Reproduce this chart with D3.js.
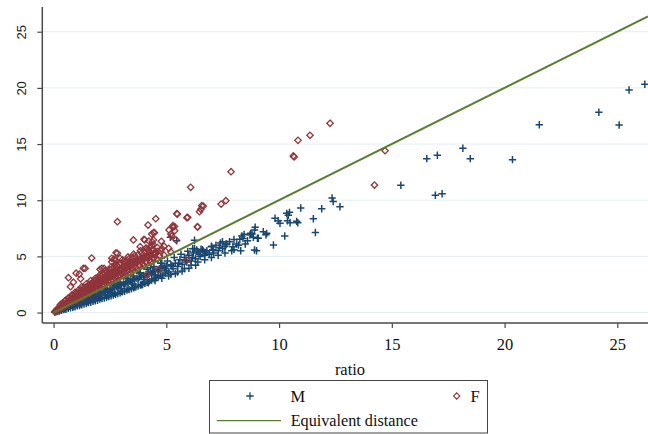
<!DOCTYPE html>
<html>
<head>
<meta charset="utf-8">
<script src="https://cdn.jsdelivr.net/npm/d3@7"></script>
<style>
  html, body { margin: 0; padding: 0; background: #ffffff; }
  svg { display: block; }
</style>
</head>
<body>
<svg id="chart" width="648" height="434"></svg>
<script>
// ---------------- DATA ----------------
const xTicks = [0, 5, 10, 15, 20, 25];
const yTicks = [0, 5, 10, 15, 20, 25];
const xLabel = "ratio";
const seriesNames = ["M", "F"];
const lineName = "Equivalent distance";

// M series: [ratio, distance]
const mPoints = [
  [0.05,0.03],[0.1,0.08],[0.15,0.09],[0.2,0.16],[0.25,0.14],[0.3,0.24],[0.3,0.28],[0.35,0.2],[0.4,0.33],[0.45,0.26],
  [0.5,0.4],[0.5,0.33],[0.55,0.3],[0.6,0.5],[0.65,0.37],[0.7,0.58],[0.75,0.42],[0.8,0.66],[0.8,0.75],[0.85,0.47],
  [0.9,0.75],[0.95,0.52],[1.0,0.82],[1.0,0.7],[1.05,0.6],[1.1,0.9],[1.15,0.63],[1.2,0.98],[1.25,0.7],[1.3,1.06],
  [1.3,1.2],[1.35,0.75],[1.4,1.15],[1.45,0.8],[1.5,1.22],[1.5,1.05],[1.55,0.88],[1.6,1.3],[1.65,0.92],[1.7,1.4],
  [1.75,1.0],[1.8,1.48],[1.8,1.68],[1.85,1.05],[1.9,1.55],[1.95,1.1],[2.0,1.62],[2.0,1.4],[2.05,1.2],[2.1,1.7],
  [2.15,1.25],[2.2,1.8],[2.25,1.3],[2.3,1.88],[2.3,2.12],[2.35,1.35],[2.4,1.95],[2.45,1.42],[2.5,2.05],[2.5,1.78],
  [2.55,1.5],[2.6,2.12],[2.65,1.55],[2.7,2.2],[2.75,1.62],[2.8,2.3],[2.8,2.58],[2.85,1.7],[2.9,2.38],[2.95,1.75],
  [3.0,2.45],[3.0,2.15],[3.05,1.85],[3.1,2.55],[3.15,1.9],[3.2,2.62],[3.25,2.0],[3.3,2.7],[3.3,3.05],[3.35,2.05],
  [3.4,2.8],[3.45,2.12],[3.5,2.9],[3.5,2.55],[3.55,2.2],[3.6,2.95],[3.65,2.3],[3.7,3.05],[3.75,2.35],[3.8,3.15],
  [3.8,3.5],[3.85,2.45],[3.9,3.2],[3.95,2.5],[4.0,3.3],[4.0,2.95],[4.05,2.6],[4.1,3.4],[4.15,2.7],[4.2,3.45],
  [4.25,2.8],[4.3,3.55],[4.3,3.98],[4.35,2.9],[4.4,3.65],[4.45,3.0],[4.5,3.7],[4.5,3.35],[4.55,3.1],[4.6,3.8],
  [4.65,3.2],[4.7,3.9],[4.75,3.3],[4.8,4.0],[4.8,4.4],[4.85,3.35],[4.9,4.05],[4.95,3.5],[5.0,4.15],[5.0,3.75],
  [5.1,3.6],[5.2,4.25],[5.3,3.9],[5.4,4.4],[5.5,4.1],[5.6,4.7],[5.7,4.3],[5.8,4.9],[5.9,4.5],[6.0,5.1],
  [6.1,4.6],[6.2,5.3],[6.3,4.8],[6.4,5.4],[6.5,5.0],[6.6,5.6],[6.7,5.1],[6.8,5.5],[6.9,5.2],[7.0,5.9],
  [7.1,5.3],[7.2,6.0],[7.3,5.5],[7.4,6.2],[7.5,5.7],[7.6,5.9],[7.8,6.3],[7.9,5.5],[8.0,6.5],[8.2,6.0],
  [8.4,6.6],[8.6,6.4],[8.8,7.0],
  [1.15,1.05],[1.45,1.35],[1.75,1.6],[2.05,1.9],[2.35,2.15],[2.65,2.45],[2.95,2.7],[3.25,3.0],[3.55,3.25],[3.85,3.55],
  [4.15,3.85],[4.45,4.1],[4.75,4.4],[5.05,4.6],[5.35,4.9],[5.65,5.2],[5.95,5.45],[6.25,5.7],
  [0.45,0.36],[0.75,0.6],[1.05,0.85],[1.35,1.08],[1.65,1.3],[1.95,1.55],[2.25,1.78],[2.55,2.0],[2.85,2.25],[3.15,2.5],
  [3.45,2.75],[3.75,2.98],[4.05,3.2],[4.35,3.45],[4.65,3.7],[4.95,3.95],[5.25,4.15],[5.55,4.4],[5.85,4.65],[6.15,4.9],
  [6.45,5.2],[6.75,5.35],[7.05,5.6],[7.35,5.8],[7.65,6.1],
  [0.9,0.58],[1.2,0.77],[1.5,0.95],[1.8,1.15],[2.1,1.33],[2.4,1.52],[2.7,1.72],[3.0,1.9],[3.3,2.1],[3.6,2.28],
  [3.9,2.48],[4.2,2.65],[4.5,2.85],[4.8,3.05],[5.1,3.25],[5.4,3.45],[5.7,3.7],[6.0,3.95],[6.3,4.2],
  [5.2,3.4],[5.5,3.6],[5.8,3.9],[6.1,4.2],[6.4,4.5],[6.7,4.7],[7.0,4.9],[7.3,5.1],[7.6,5.3],[8.0,5.6],
  [8.3,5.5],[8.5,6.1],
  [5.18,6.70],[5.46,6.39],[6.25,6.43],[6.17,5.68],[6.35,5.57],[6.54,5.63],[6.64,5.48],[7.01,5.86],[7.09,5.57],[7.49,6.30],
  [7.68,6.10],[7.95,5.86],[8.12,6.10],[8.26,6.52],[8.35,6.81],[8.45,6.96],[8.74,7.05],[8.91,7.35],[8.91,5.57],[9.08,6.61],
  [9.45,7.05],[9.75,6.01],[9.82,8.39],[9.96,8.17],[10.04,7.94],[10.25,6.81],[10.34,8.83],[10.37,8.17],[10.46,8.92],[10.41,8.66],
  [10.49,8.00],[10.83,8.00],[10.78,8.12],[10.96,9.31],[11.52,8.35],[11.61,7.12],[11.89,9.24],[12.35,10.2],[12.4,9.88],[12.7,9.42],
  [8.94,7.59],[9.30,7.20],[9.42,6.93],[8.86,6.70],[9.04,6.61],[9.00,5.50],[8.71,6.90],
  [15.40,11.33],[16.93,10.44],[17.23,10.58],[16.55,13.70],[17.02,14.00],[18.15,14.62],[18.48,13.70],[20.35,13.61],[21.54,16.72],[24.18,17.83],
  [25.08,16.70],[25.52,19.81],[26.22,20.32]
];

// F series: [ratio, distance]
const fPoints = [
  [0.05,0.08],[0.1,0.12],[0.12,0.2],[0.18,0.22],[0.2,0.35],[0.25,0.3],[0.28,0.45],[0.3,0.38],[0.3,0.7],[0.35,0.55],
  [0.38,0.45],[0.4,0.65],[0.45,0.52],[0.47,0.75],[0.5,0.6],[0.5,1.05],[0.55,0.85],[0.58,0.68],[0.6,0.95],[0.65,0.78],
  [0.65,1.3],[0.68,1.05],[0.7,0.85],[0.75,1.15],[0.78,0.92],[0.8,1.25],[0.8,1.55],[0.85,1.0],[0.88,1.35],[0.9,1.1],
  [0.95,1.45],[0.95,1.8],[1.0,1.15],[1.0,1.6],[1.05,1.3],[1.1,1.75],[1.1,2.0],[1.12,1.25],[1.15,1.5],[1.2,1.9],
  [1.22,1.35],[1.25,1.65],[1.25,2.3],[1.3,2.05],[1.32,1.45],[1.35,1.8],[1.4,2.2],[1.42,1.55],[1.45,1.95],[1.45,2.55],
  [1.5,2.35],[1.52,1.7],[1.55,2.1],[1.6,2.5],[1.62,1.8],[1.65,2.25],[1.65,2.85],[1.7,2.65],[1.72,1.9],[1.75,2.4],
  [1.8,2.8],[1.82,2.0],[1.85,2.55],[1.85,3.05],[1.9,2.95],[1.92,2.15],[1.95,2.7],[2.0,3.1],[2.02,2.25],[2.05,2.85],
  [2.05,3.35],[2.1,3.25],[2.12,2.4],[2.15,3.0],[2.2,3.4],[2.22,2.5],[2.25,3.15],[2.3,3.5],[2.3,3.75],[2.32,2.6],
  [2.35,3.3],[2.4,3.65],[2.42,2.75],[2.45,3.4],[2.5,3.8],[2.52,2.85],[2.55,3.5],[2.55,4.05],[2.6,3.9],[2.62,2.95],
  [2.65,3.6],[2.7,4.05],[2.72,3.1],[2.75,3.7],[2.75,4.35],[2.8,4.15],[2.85,3.2],[2.88,3.8],[2.9,4.3],[2.95,3.35],
  [3.0,3.95],[3.0,4.4],[3.05,3.45],[3.05,4.7],[3.1,4.05],[3.12,4.55],[3.15,3.55],[3.2,4.2],[3.25,4.65],[3.28,3.7],
  [3.3,4.3],[3.3,4.95],[3.35,4.8],[3.4,3.8],[3.42,4.45],[3.5,4.9],[3.52,3.95],[3.55,4.55],[3.55,5.2],[3.6,5.05],
  [3.65,4.05],[3.7,4.7],[3.75,5.15],[3.8,4.2],[3.85,4.8],[3.85,5.5],[3.9,5.3],[3.95,4.35],[4.0,4.95],[4.05,5.4],
  [4.1,4.5],[4.1,5.75],[4.15,5.1],[4.2,5.55],[4.25,4.65],[4.3,5.2],[4.35,5.95],[4.4,5.65],[4.45,4.85],[4.5,5.35],
  [4.6,5.8],[4.7,5.05],[4.75,5.5],
  [0.15,0.3],[0.25,0.42],[0.35,0.5],[0.45,0.62],[0.55,0.72],[0.65,0.9],[0.75,1.0],[0.85,1.12],[0.95,1.25],[1.05,1.4],
  [1.15,1.62],[1.25,1.5],[1.35,1.6],[1.45,1.75],[1.55,1.9],[1.65,2.05],[1.75,2.2],[1.85,2.3],[1.95,2.45],[2.05,2.6],
  [2.15,2.7],[2.25,2.85],[2.35,2.95],[2.45,3.1],[2.55,3.2],[2.65,3.35],[2.75,3.45],[2.85,3.55],[2.95,3.7],[3.05,3.8],
  [3.15,3.9],[3.25,4.0],[3.35,4.1],[3.45,4.25],[3.55,4.35],[3.65,4.45],[3.75,4.55],[3.85,4.65],[3.95,4.75],[4.05,4.85],
  [4.15,4.9],[4.25,5.0],[4.35,5.1],[4.45,5.15],[4.55,5.25],
  [0.4,0.85],[0.55,1.1],[0.7,1.3],[0.85,1.5],[1.0,1.75],[1.15,1.9],[1.3,2.2],[1.45,2.3],[1.6,2.45],[1.75,2.6],
  [1.9,2.75],[2.05,3.0],[2.2,3.1],[2.35,3.2],[2.5,3.35],[2.65,3.5],[2.8,3.65],[2.95,3.85],[3.1,4.0],[3.25,4.1],
  [3.4,4.3],[3.55,4.4],[3.7,4.55],[3.85,4.65],[4.0,4.8],[4.15,5.0],[4.3,5.1],[4.45,5.3],[4.6,5.45],[4.8,5.7],[4.9,5.9],
  [1.0,1.08],[1.3,1.38],[1.6,1.7],[1.9,2.0],[2.2,2.35],[2.5,2.6],[2.8,2.95],[3.1,3.25],[3.4,3.5],[3.7,3.85],
  [4.0,4.15],[4.3,4.45],[4.6,4.75],[4.9,5.1],[5.2,5.4],
  [0.66,3.1],[0.75,2.3],[0.88,2.7],[1.0,3.5],[1.14,3.43],[1.2,3.0],[1.32,3.94],[1.40,3.93],[1.69,4.85],[2.06,3.85],
  [2.14,3.94],[2.24,3.94],[2.58,4.52],[2.73,4.67],[2.58,4.83],[2.68,4.76],[2.95,4.83],[2.77,5.32],[2.83,5.27],[2.83,8.09],
  [3.54,6.46],[3.84,5.86],[4.04,6.46],[4.22,6.37],[4.37,6.28],[4.43,6.01],[4.28,5.81],[4.13,5.63],[4.35,6.99],[4.47,7.11],
  [4.01,6.52],[4.43,6.46],[4.78,6.34],[5.11,5.72],[5.43,6.46],[5.24,6.81],[5.20,6.99],[5.37,7.28],[5.12,7.35],[5.29,7.59],
  [5.36,7.66],[4.43,7.11],[4.19,7.79],[4.53,8.35],[5.29,7.73],[5.49,8.77],[5.46,8.80],[5.91,8.44],[5.95,8.48],[6.38,7.64],
  [6.39,7.61],[6.47,8.98],[6.53,9.19],[6.57,9.51],[6.64,9.48],[7.43,9.66],[7.64,9.96],[6.08,11.15],[7.87,12.54],[5.91,4.67],
  [4.16,3.34],[4.65,3.78],[10.63,13.94],[10.67,13.85],[10.84,15.33],[11.37,15.78],[12.26,16.85],[14.23,11.35],[14.70,14.41]
];

// ---------------- LAYOUT ----------------
const W = 648, H = 434;
const plot = { left: 42.3, right: 648, top: 7, bottom: 323 };
const colM = "#1a476f", colF = "#90353b", colLine = "#5a7d2f";
const serif = "'Liberation Serif', 'Times New Roman', serif";
const sans = "'Liberation Sans', Arial, sans-serif";

const svg = d3.select("#chart");
svg.append("rect").attr("width", W).attr("height", H).attr("fill", "#fff");

const x = d3.scaleLinear().domain([-0.5, 26.36]).range([plot.left, plot.right]);
const y = d3.scaleLinear().domain([-0.93, 27.2]).range([plot.bottom, plot.top]);

svg.append("defs").append("clipPath").attr("id", "clip")
  .append("rect").attr("x", plot.left).attr("y", plot.top)
  .attr("width", plot.right - plot.left).attr("height", plot.bottom - plot.top);

// gridlines
svg.append("g").selectAll("line").data(yTicks).join("line")
  .attr("x1", plot.left).attr("x2", plot.right)
  .attr("y1", d => y(d)).attr("y2", d => y(d))
  .attr("stroke", "#e4eef0").attr("stroke-width", 1);

const g = svg.append("g").attr("clip-path", "url(#clip)");

// M markers (plus)
const plusPath = "M-3.7,0H3.7M0,-3.7V3.7";
g.append("g").selectAll("path").data(mPoints).join("path")
  .attr("d", plusPath)
  .attr("transform", d => `translate(${x(d[0])},${y(d[1])})`)
  .attr("fill", "none").attr("stroke", colM).attr("stroke-width", 1.5);

// F markers (hollow diamond)
const diamondPath = "M0,-3.2L3.2,0L0,3.2L-3.2,0Z";
g.append("g").selectAll("path").data(fPoints).join("path")
  .attr("d", diamondPath)
  .attr("transform", d => `translate(${x(d[0])},${y(d[1])})`)
  .attr("fill", "none").attr("stroke", colF).attr("stroke-width", 1.3);

// equivalence line y = x
const lineXs = [0, 26.36];
g.append("path")
  .datum(lineXs)
  .attr("d", d3.line().x(d => x(d)).y(d => y(d)))
  .attr("fill", "none").attr("stroke", colLine).attr("stroke-width", 2);

// axes
const axisColor = "#4a4a4a";
const yAxis = svg.append("g").attr("transform", `translate(${plot.left},0)`)
  .call(d3.axisLeft(y).tickValues(yTicks).tickSize(5).tickFormat(d3.format("d")));
yAxis.select(".domain").attr("stroke", axisColor).attr("stroke-width", 1.5)
  .attr("d", `M0,${plot.top}V${plot.bottom}`);
yAxis.selectAll(".tick line").attr("stroke", axisColor).attr("stroke-width", 1.2);
yAxis.selectAll(".tick text")
  .attr("x", 0).attr("dy", "0.35em").attr("text-anchor", "middle")
  .attr("transform", "translate(-20.6,0) rotate(-90)")
  .attr("font-family", sans).attr("font-size", 13).attr("fill", "#222");

const xAxis = svg.append("g").attr("transform", `translate(0,${plot.bottom})`)
  .call(d3.axisBottom(x).tickValues(xTicks).tickSize(5).tickFormat(d3.format("d")));
xAxis.select(".domain").attr("stroke", axisColor).attr("stroke-width", 1.5)
  .attr("d", `M${plot.left},0H${plot.right}`);
xAxis.selectAll(".tick line").attr("stroke", axisColor).attr("stroke-width", 1.2);
xAxis.selectAll(".tick text")
  .attr("y", 26.7).attr("dy", 0)
  .attr("font-family", serif).attr("font-size", 16.5).attr("fill", "#111");

svg.append("text").attr("x", 350).attr("y", 374.5).attr("text-anchor", "middle")
  .attr("font-family", serif).attr("font-size", 16.5).attr("fill", "#111").text(xLabel);

// legend
const lg = svg.append("g");
lg.append("rect").attr("x", 209.5).attr("y", 380.5).attr("width", 278).attr("height", 52.5)
  .attr("fill", "#fff").attr("stroke", "#444").attr("stroke-width", 1);
lg.append("path").attr("d", plusPath).attr("transform", "translate(250,396)")
  .attr("fill", "none").attr("stroke", colM).attr("stroke-width", 1.3);
lg.append("text").attr("x", 290.5).attr("y", 401.5)
  .attr("font-family", serif).attr("font-size", 16.5).attr("fill", "#111").text(seriesNames[0]);
lg.append("path").attr("d", diamondPath).attr("transform", "translate(456.7,396)")
  .attr("fill", "none").attr("stroke", colF).attr("stroke-width", 1.1);
lg.append("text").attr("x", 470.5).attr("y", 401.5)
  .attr("font-family", serif).attr("font-size", 16.5).attr("fill", "#111").text(seriesNames[1]);
lg.append("line").attr("x1", 216.7).attr("x2", 281).attr("y1", 420.7).attr("y2", 420.7)
  .attr("stroke", colLine).attr("stroke-width", 1.2);
lg.append("text").attr("x", 290.7).attr("y", 426)
  .attr("font-family", serif).attr("font-size", 16.2).attr("fill", "#111").text(lineName);
</script>
</body>
</html>
